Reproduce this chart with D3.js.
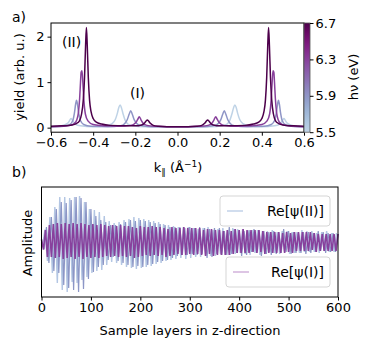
<!DOCTYPE html>
<html>
<head>
<meta charset="utf-8">
<script src="https://cdn.jsdelivr.net/npm/d3@7"></script>
<style>
  body { margin: 0; background: #fff; }
  svg text { font-family: "DejaVu Sans", sans-serif; fill: #000; }
</style>
</head>
<body>
<svg id="chart" width="373" height="349"></svg>
<script>
// ---- panel a) data: photoemission yield vs k, one curve per photon energy ----
var photonEnergies = [5.5, 5.9, 6.3, 6.7];

var yieldA = [ // hv 5.5
  [-0.6,0.02],[-0.55,0.04],[-0.52,0.1],[-0.51,0.17],[-0.505,0.2],[-0.498,0.16],[-0.485,0.08],[-0.46,0.04],
  [-0.4,0.02],[-0.34,0.04],[-0.31,0.09],[-0.295,0.18],[-0.285,0.32],[-0.278,0.45],[-0.272,0.5],[-0.266,0.44],
  [-0.258,0.3],[-0.248,0.16],[-0.235,0.08],[-0.21,0.04],[-0.16,0.02],[0,0.02],
  [0.16,0.02],[0.21,0.04],[0.235,0.08],[0.248,0.16],[0.258,0.3],[0.266,0.44],[0.272,0.5],[0.278,0.45],
  [0.285,0.32],[0.295,0.18],[0.31,0.09],[0.34,0.04],[0.4,0.02],[0.46,0.04],[0.485,0.08],[0.498,0.16],
  [0.505,0.2],[0.51,0.17],[0.52,0.1],[0.55,0.04],[0.6,0.02]
];
var yieldB = [ // hv 5.9
  [-0.6,0.02],[-0.54,0.03],[-0.51,0.07],[-0.497,0.15],[-0.489,0.32],[-0.483,0.52],[-0.479,0.6],[-0.474,0.5],
  [-0.468,0.3],[-0.46,0.15],[-0.445,0.07],[-0.41,0.03],[-0.33,0.02],[-0.27,0.04],[-0.25,0.09],[-0.238,0.18],
  [-0.229,0.3],[-0.222,0.37],[-0.215,0.3],[-0.205,0.17],[-0.19,0.08],[-0.165,0.04],[-0.12,0.02],[0,0.02],
  [0.12,0.02],[0.165,0.04],[0.19,0.08],[0.205,0.17],[0.215,0.3],[0.222,0.37],[0.229,0.3],[0.238,0.18],
  [0.25,0.09],[0.27,0.04],[0.33,0.02],[0.41,0.03],[0.445,0.07],[0.46,0.15],[0.468,0.3],[0.474,0.5],
  [0.479,0.6],[0.483,0.52],[0.489,0.32],[0.497,0.15],[0.51,0.07],[0.54,0.03],[0.6,0.02]
];
var yieldC = [ // hv 6.3
  [-0.6,0.02],[-0.55,0.03],[-0.51,0.05],[-0.49,0.09],[-0.478,0.17],[-0.47,0.33],[-0.464,0.65],[-0.46,1.0],
  [-0.457,1.22],[-0.453,1.25],[-0.449,1.0],[-0.444,0.6],[-0.437,0.3],[-0.425,0.15],[-0.4,0.07],[-0.35,0.04],
  [-0.28,0.03],[-0.22,0.05],[-0.2,0.1],[-0.19,0.17],[-0.181,0.24],[-0.172,0.16],[-0.162,0.09],[-0.145,0.05],
  [-0.1,0.03],[-0.05,0.02],[0,0.02],
  [0.05,0.02],[0.1,0.03],[0.145,0.05],[0.162,0.09],[0.172,0.16],[0.181,0.24],[0.19,0.17],[0.2,0.1],
  [0.22,0.05],[0.28,0.03],[0.35,0.04],[0.4,0.07],[0.425,0.15],[0.437,0.3],[0.444,0.6],[0.449,1.0],
  [0.453,1.25],[0.457,1.22],[0.46,1.0],[0.464,0.65],[0.47,0.33],[0.478,0.17],[0.49,0.09],[0.51,0.05],
  [0.55,0.03],[0.6,0.02]
];
var yieldD = [ // hv 6.7
  [-0.6,0.03],[-0.55,0.04],[-0.5,0.06],[-0.48,0.09],[-0.465,0.15],[-0.455,0.3],[-0.447,0.6],[-0.441,1.1],
  [-0.436,1.8],[-0.432,2.2],[-0.428,1.8],[-0.423,1.1],[-0.417,0.6],[-0.41,0.35],[-0.4,0.2],[-0.385,0.12],
  [-0.36,0.08],[-0.32,0.05],[-0.25,0.04],[-0.2,0.04],[-0.17,0.06],[-0.155,0.11],[-0.148,0.15],[-0.143,0.17],
  [-0.138,0.15],[-0.13,0.1],[-0.115,0.05],[-0.09,0.03],[-0.05,0.02],[0,0.02],
  [0.05,0.02],[0.09,0.03],[0.115,0.05],[0.13,0.1],[0.138,0.15],[0.143,0.17],[0.148,0.15],[0.155,0.11],
  [0.17,0.06],[0.2,0.04],[0.25,0.04],[0.32,0.05],[0.36,0.08],[0.385,0.12],[0.4,0.2],[0.41,0.35],
  [0.417,0.6],[0.423,1.1],[0.428,1.8],[0.432,2.2],[0.436,1.8],[0.441,1.1],[0.447,0.6],[0.455,0.3],
  [0.465,0.15],[0.48,0.09],[0.5,0.06],[0.55,0.04],[0.6,0.03]
];
var yieldCurves = [yieldA, yieldB, yieldC, yieldD];

var kTicks = [-0.6, -0.4, -0.2, 0.0, 0.2, 0.4, 0.6];
var yieldTicks = [0, 1, 2];
var hvTicks = [5.5, 5.9, 6.3, 6.7];

// ---- panel b) data: real part of wave function vs sample layer ----
var layersIIa = d3.range(2, 600, 5);
var psiIIa = [ // light blue
  -0.08,0.25,-0.38,0.5,-0.62,0.7,-0.82,0.9,-0.96,0.9,
  -1.0,0.88,-0.8,0.9,-0.82,0.92,-0.76,0.8,-0.7,0.66,
  -0.62,0.64,-0.58,0.6,-0.56,0.52,-0.46,0.42,-0.4,0.38,
  -0.42,0.4,-0.46,0.44,-0.5,0.46,-0.52,0.5,-0.54,0.48,
  -0.52,0.46,-0.5,0.44,-0.48,0.42,-0.44,0.4,-0.42,0.36,
  -0.38,0.34,-0.36,0.32,-0.34,0.3,-0.32,0.3,-0.34,0.3,
  -0.32,0.28,-0.3,0.26,-0.3,0.28,-0.26,0.3,-0.28,0.24,
  -0.28,0.26,-0.24,0.28,-0.26,0.24,-0.26,0.28,-0.24,0.26,
  -0.22,0.26,-0.24,0.22,-0.26,0.24,-0.22,0.24,-0.26,0.22,
  -0.24,0.22,-0.2,0.24,-0.22,0.2,-0.24,0.22,-0.2,0.22,
  -0.24,0.2,-0.22,0.2,-0.22,0.24,-0.2,0.22,-0.2,0.22,
  -0.2,0.18,-0.22,0.2,-0.18,0.22,-0.2,0.18,-0.2,0.18
];
var layersIIb = d3.range(0, 601, 5);
var psiIIb = [ // medium blue
  0.02,-0.15,0.3,-0.42,0.5,-0.58,0.66,-0.62,0.8,-0.86,
  0.78,-0.92,0.84,-0.96,0.9,-1.0,0.88,-0.94,0.8,-0.74,
  0.66,-0.6,0.52,-0.5,0.44,-0.46,0.4,-0.36,0.34,-0.3,
  0.34,-0.38,0.36,-0.42,0.4,-0.46,0.44,-0.5,0.42,-0.48,
  0.44,-0.5,0.42,-0.46,0.4,-0.44,0.38,-0.4,0.36,-0.38,
  0.34,-0.36,0.3,-0.32,0.3,-0.28,0.3,-0.26,0.28,-0.26,
  0.3,-0.24,0.28,-0.26,0.3,-0.24,0.28,-0.32,0.26,-0.3,
  0.28,-0.24,0.28,-0.26,0.22,-0.26,0.3,-0.24,0.26,-0.22,
  0.24,-0.28,0.22,-0.26,0.24,-0.2,0.26,-0.22,0.24,-0.28,
  0.22,-0.24,0.2,-0.26,0.22,-0.24,0.2,-0.22,0.26,-0.2,
  0.22,-0.24,0.2,-0.22,0.18,-0.22,0.2,-0.24,0.2,-0.22,
  0.18,-0.2,0.22,-0.18,0.2,-0.22,0.18,-0.2,0.18,-0.2,
  0.16
];
var layersI = d3.range(0, 601, 4);
var psiI = [ // purple
  0.05,-0.15,0.24,-0.3,0.34,-0.3,0.36,-0.32,0.38,-0.3,
  0.36,-0.34,0.38,-0.32,0.36,-0.3,0.38,-0.34,0.36,-0.3,
  0.38,-0.34,0.36,-0.3,0.34,-0.32,0.36,-0.3,0.34,-0.32,
  0.36,-0.3,0.34,-0.28,0.32,-0.3,0.34,-0.28,0.32,-0.3,
  0.34,-0.28,0.32,-0.3,0.32,-0.28,0.3,-0.32,0.28,-0.3,
  0.32,-0.28,0.3,-0.26,0.3,-0.28,0.32,-0.26,0.3,-0.28,
  0.3,-0.26,0.28,-0.3,0.26,-0.28,0.3,-0.26,0.28,-0.24,
  0.28,-0.26,0.3,-0.26,0.28,-0.24,0.28,-0.26,0.28,-0.24,
  0.28,-0.26,0.24,-0.28,0.26,-0.24,0.26,-0.28,0.24,-0.26,
  0.24,-0.26,0.22,-0.26,0.24,-0.26,0.22,-0.24,0.26,-0.22,
  0.24,-0.22,0.26,-0.22,0.24,-0.22,0.24,-0.2,0.24,-0.22,
  0.24,-0.2,0.22,-0.24,0.2,-0.22,0.2,-0.22,0.2,-0.22,
  0.2,-0.22,0.18,-0.22,0.2,-0.2,0.18,-0.22,0.2,-0.18,
  0.2,-0.18,0.2,-0.18,0.2,-0.18,0.2,-0.16,0.18,-0.2,
  0.16,-0.18,0.16,-0.18,0.16,-0.18,0.16,-0.18,0.16,-0.18,
  0.16
];
var layerTicks = [0, 100, 200, 300, 400, 500, 600];
var legendLabels = ["Re[\u03c8(II)]", "Re[\u03c8(I)]"];

var svg = d3.select("#chart");

// colour map shared by panel a lines and colorbar
var hvColor = function (hv) {
  return d3.interpolateBuPu(0.25 + 0.75 * (hv - 5.5) / 1.2);
};

// ================= panel a =================
var ax = { left: 51, right: 304, top: 23, bottom: 132.2 };
var kScale = d3.scaleLinear().domain([-0.6, 0.6]).range([ax.left, ax.right]);
var yScale = d3.scaleLinear().domain([-0.1, 2.3]).range([ax.bottom, ax.top]);

var gA = svg.append("g");
var yieldLine = d3.line()
  .x(function (d) { return kScale(d[0]); })
  .y(function (d) { return yScale(d[1]); })
  .curve(d3.curveMonotoneX);

yieldCurves.forEach(function (c, i) {
  gA.append("path")
    .attr("d", yieldLine(c))
    .style("fill", "none")
    .style("stroke", hvColor(photonEnergies[i]))
    .style("stroke-width", 1.5);
});

gA.append("rect")
  .attr("x", ax.left).attr("y", ax.top)
  .attr("width", ax.right - ax.left).attr("height", ax.bottom - ax.top)
  .style("fill", "none").style("stroke", "#000").style("stroke-width", 1);

var xAxisA = gA.append("g")
  .attr("transform", "translate(0," + ax.bottom + ")")
  .call(d3.axisBottom(kScale).tickValues(kTicks).tickFormat(d3.format(".1f")).tickSize(3.5).tickPadding(2));
var yAxisA = gA.append("g")
  .attr("transform", "translate(" + ax.left + ",0)")
  .call(d3.axisLeft(yScale).tickValues(yieldTicks).tickFormat(d3.format("d")).tickSize(3.5).tickPadding(3));
[xAxisA, yAxisA].forEach(function (a) {
  a.select(".domain").remove();
  a.selectAll("text").style("font-size", "13px").style("font-family", "DejaVu Sans");
});

gA.append("text").attr("x", 62).attr("y", 47).style("font-size", "14px").text("(II)");
gA.append("text").attr("x", 130).attr("y", 98).style("font-size", "14px").text("(I)");

gA.append("text")
  .attr("transform", "translate(24,77) rotate(-90)")
  .attr("text-anchor", "middle")
  .style("font-size", "13px")
  .text("yield (arb. u.)");

var kLabel = gA.append("text")
  .attr("x", 178).attr("y", 172)
  .attr("text-anchor", "middle")
  .style("font-size", "13px");
kLabel.append("tspan").text("k");
kLabel.append("tspan").attr("dy", 3).style("font-size", "9px").text("\u2225");
kLabel.append("tspan").attr("dy", -3).text(" (\u00c5");
kLabel.append("tspan").attr("dy", -5).style("font-size", "9px").text("\u22121");
kLabel.append("tspan").attr("dy", 5).text(")");

svg.append("text").attr("x", 12).attr("y", 22).style("font-size", "14px").text("a)");

// colorbar
var cb = { left: 304, right: 310, top: 23, bottom: 132.2 };
var hvScale = d3.scaleLinear().domain([5.5, 6.7]).range([cb.bottom, cb.top]);
var grad = svg.append("defs").append("linearGradient")
  .attr("id", "cbgrad").attr("x1", 0).attr("y1", 1).attr("x2", 0).attr("y2", 0);
d3.range(0, 1.0001, 0.1).forEach(function (t) {
  grad.append("stop").attr("offset", t).attr("stop-color", hvColor(5.5 + 1.2 * t));
});
svg.append("rect")
  .attr("x", cb.left).attr("y", cb.top)
  .attr("width", cb.right - cb.left).attr("height", cb.bottom - cb.top)
  .style("fill", "url(#cbgrad)").style("stroke", "#555").style("stroke-width", 0.8);
var cbAxis = svg.append("g")
  .attr("transform", "translate(" + cb.right + ",0)")
  .call(d3.axisRight(hvScale).tickValues(hvTicks).tickFormat(d3.format(".1f")).tickSize(3.5).tickPadding(2));
cbAxis.select(".domain").remove();
cbAxis.selectAll("text").style("font-size", "13px").style("font-family", "DejaVu Sans");

svg.append("text")
  .attr("transform", "translate(358,77) rotate(-90)")
  .attr("text-anchor", "middle")
  .style("font-size", "13px")
  .text("h\u03bd (eV)");

// ================= panel b =================
var bx = { left: 41.5, right: 338, top: 187, bottom: 297 };
var layerScale = d3.scaleLinear().domain([0, 600]).range([bx.left, bx.right]);
var ampScale = d3.scaleLinear().domain([-1.1, 1.1]).range([bx.bottom, bx.top]);

var gB = svg.append("g");
var waves = [
  { layers: layersIIa, values: psiIIa, color: "#b3c6e3", width: 1.4 },
  { layers: layersIIb, values: psiIIb, color: "#8c96c6", width: 1.2 },
  { layers: layersI, values: psiI, color: "#88419d", width: 1.6 }
];
waves.forEach(function (w) {
  var line = d3.line()
    .x(function (d, i) { return layerScale(w.layers[i]); })
    .y(function (d) { return ampScale(d); });
  gB.append("path")
    .attr("d", line(w.values))
    .style("fill", "none")
    .style("stroke", w.color)
    .style("stroke-width", w.width);
});

gB.append("rect")
  .attr("x", bx.left).attr("y", bx.top)
  .attr("width", bx.right - bx.left).attr("height", bx.bottom - bx.top)
  .style("fill", "none").style("stroke", "#000").style("stroke-width", 1);

var xAxisB = gB.append("g")
  .attr("transform", "translate(0," + bx.bottom + ")")
  .call(d3.axisBottom(layerScale).tickValues(layerTicks).tickFormat(d3.format("d")).tickSize(3.5).tickPadding(2));
xAxisB.select(".domain").remove();
xAxisB.selectAll("text").style("font-size", "13px").style("font-family", "DejaVu Sans");

gB.append("text")
  .attr("transform", "translate(32,243) rotate(-90)")
  .attr("text-anchor", "middle")
  .style("font-size", "13px")
  .text("Amplitude");
gB.append("text")
  .attr("x", 190).attr("y", 335)
  .attr("text-anchor", "middle")
  .style("font-size", "13px")
  .text("Sample layers in z-direction");

svg.append("text").attr("x", 12).attr("y", 177).style("font-size", "14px").text("b)");

// legends (two separate boxes)
var legendBoxes = [
  { x: 220, y: 196, w: 110, h: 30, color: "#b3c6e3", label: legendLabels[0] },
  { x: 226, y: 257, w: 104, h: 30, color: "#c79fd3", label: legendLabels[1] }
];
legendBoxes.forEach(function (b) {
  var g = gB.append("g");
  g.append("rect")
    .attr("x", b.x).attr("y", b.y).attr("width", b.w).attr("height", b.h)
    .attr("rx", 3)
    .style("fill", "#fff").style("fill-opacity", 0.85)
    .style("stroke", "#d5d5d5").style("stroke-width", 1);
  g.append("line")
    .attr("x1", b.x + 7).attr("x2", b.x + 23)
    .attr("y1", b.y + b.h / 2).attr("y2", b.y + b.h / 2)
    .style("stroke", b.color).style("stroke-width", 1.2);
  g.append("text")
    .attr("x", b.x + b.w - 6).attr("y", b.y + b.h / 2 + 5)
    .attr("text-anchor", "end")
    .style("font-size", "14px")
    .text(b.label);
});
</script>
</body>
</html>
